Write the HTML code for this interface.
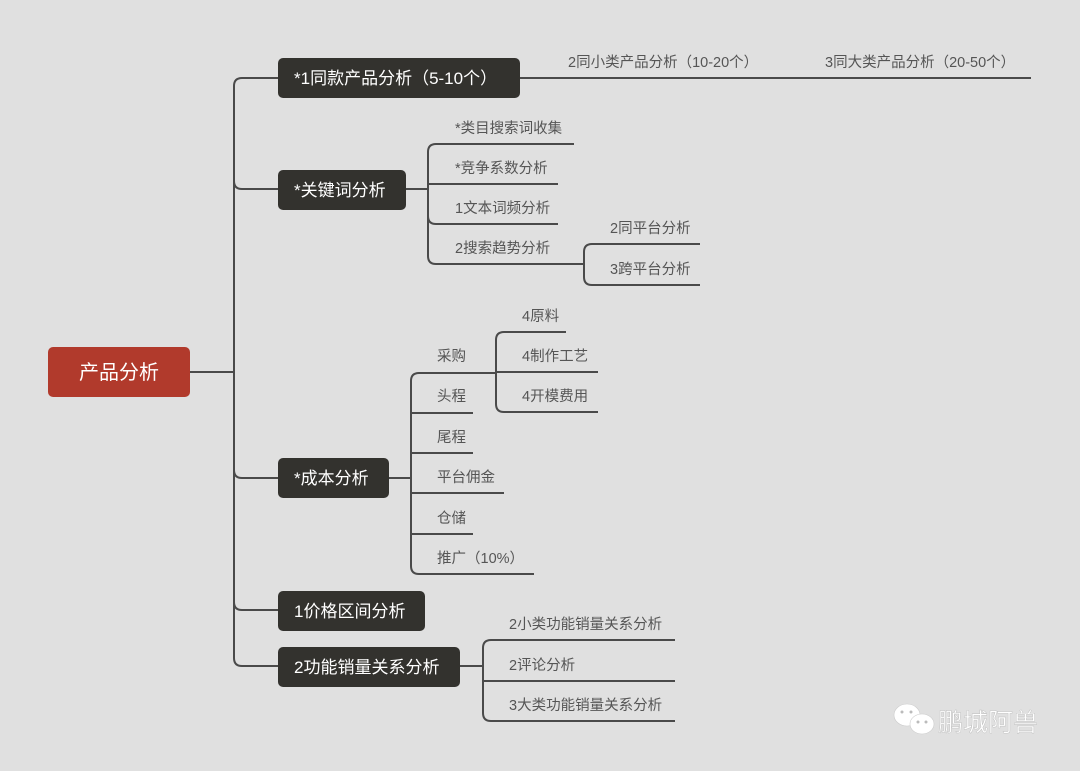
<!DOCTYPE html>
<html><head><meta charset="utf-8"><style>
html,body{margin:0;padding:0;background:#e0e0e0;}
svg{display:block}
text{font-family:"Liberation Sans","Noto Sans CJK SC",sans-serif;}
.s{fill:#555;font-size:14.5px}
.n{fill:#fff;font-size:17px}
</style></head><body>
<svg width="1080" height="771" viewBox="0 0 1080 771" xmlns="http://www.w3.org/2000/svg">
<rect width="1080" height="771" fill="#e0e0e0"/>
<g stroke="#4a4a4a" stroke-width="2" fill="none">
<!-- trunk -->
<line x1="190" y1="372" x2="234" y2="372"/>
<path d="M234 86 V658"/>
<path d="M234 86 Q234 78 242 78 H278"/>
<path d="M234 181 Q234 189 242 189 H278"/>
<path d="M234 470 Q234 478 242 478 H278"/>
<path d="M234 602 Q234 610 242 610 H278"/>
<path d="M234 658 Q234 666 242 666 H278"/>
<!-- node1 -->
<line x1="520" y1="78" x2="1031" y2="78"/>
<!-- keywords -->
<line x1="406" y1="189" x2="428" y2="189"/>
<path d="M428 152 V256"/>
<path d="M428 152 Q428 144 436 144 H574"/>
<path d="M428 184 H558"/>
<path d="M428 216 Q428 224 436 224 H558"/>
<path d="M428 256 Q428 264 436 264 H584"/>
<path d="M584 252 V277"/>
<path d="M584 252 Q584 244 592 244 H700"/>
<path d="M584 277 Q584 285 592 285 H700"/>
<!-- cost -->
<line x1="389" y1="478" x2="411" y2="478"/>
<path d="M411 381 V566"/>
<path d="M411 381 Q411 373 419 373 H496"/>
<path d="M411 413 H473"/>
<path d="M411 453 H473"/>
<path d="M411 493 H504"/>
<path d="M411 534 H473"/>
<path d="M411 566 Q411 574 419 574 H534"/>
<path d="M496 340 V404"/>
<path d="M496 340 Q496 332 504 332 H566"/>
<path d="M496 372 H598"/>
<path d="M496 404 Q496 412 504 412 H598"/>
<!-- function -->
<line x1="460" y1="666" x2="483" y2="666"/>
<path d="M483 648 V713"/>
<path d="M483 648 Q483 640 491 640 H675"/>
<path d="M483 681 H675"/>
<path d="M483 713 Q483 721 491 721 H675"/>
</g>
<!-- root -->
<rect x="48" y="347" width="142" height="50" rx="5" fill="#b13a2c"/>
<text x="119" y="379" fill="#fff" font-size="20" text-anchor="middle">产品分析</text>
<!-- level1 -->
<rect x="278" y="58" width="242" height="40" rx="5" fill="#33322e"/>
<text class="n" x="294" y="84">*1同款产品分析（5-10个）</text>
<rect x="278" y="170" width="128" height="40" rx="5" fill="#33322e"/>
<text class="n" x="294" y="196">*关键词分析</text>
<rect x="278" y="458" width="111" height="40" rx="5" fill="#33322e"/>
<text class="n" x="294" y="484">*成本分析</text>
<rect x="278" y="591" width="147" height="40" rx="5" fill="#33322e"/>
<text class="n" x="294" y="617">1价格区间分析</text>
<rect x="278" y="647" width="182" height="40" rx="5" fill="#33322e"/>
<text class="n" x="294" y="673">2功能销量关系分析</text>
<!-- leaves -->
<text class="s" x="568" y="67">2同小类产品分析（10-20个）</text>
<text class="s" x="825" y="67">3同大类产品分析（20-50个）</text>
<text class="s" x="455" y="133">*类目搜索词收集</text>
<text class="s" x="455" y="173">*竞争系数分析</text>
<text class="s" x="455" y="213">1文本词频分析</text>
<text class="s" x="455" y="253">2搜索趋势分析</text>
<text class="s" x="610" y="233">2同平台分析</text>
<text class="s" x="610" y="274">3跨平台分析</text>
<text class="s" x="437" y="361">采购</text>
<text class="s" x="437" y="401">头程</text>
<text class="s" x="437" y="442">尾程</text>
<text class="s" x="437" y="482">平台佣金</text>
<text class="s" x="437" y="523">仓储</text>
<text class="s" x="437" y="563">推广（10%）</text>
<text class="s" x="522" y="321">4原料</text>
<text class="s" x="522" y="361">4制作工艺</text>
<text class="s" x="522" y="401">4开模费用</text>
<text class="s" x="509" y="629">2小类功能销量关系分析</text>
<text class="s" x="509" y="670">2评论分析</text>
<text class="s" x="509" y="710">3大类功能销量关系分析</text>
<!-- watermark -->
<g fill="#fff" stroke="#ccc" stroke-width="0.6">
<ellipse cx="907" cy="715" rx="13" ry="11"/>
<ellipse cx="922" cy="724" rx="12" ry="10"/>
</g>
<g fill="#bbb"><circle cx="902" cy="712" r="1.5"/><circle cx="911" cy="712" r="1.5"/><circle cx="918" cy="722" r="1.5"/><circle cx="926" cy="722" r="1.5"/></g>
<text x="938" y="731" fill="#fff" stroke="#bbb" stroke-width="0.4" font-size="25">鹏城阿兽</text>
</svg>
</body></html>
